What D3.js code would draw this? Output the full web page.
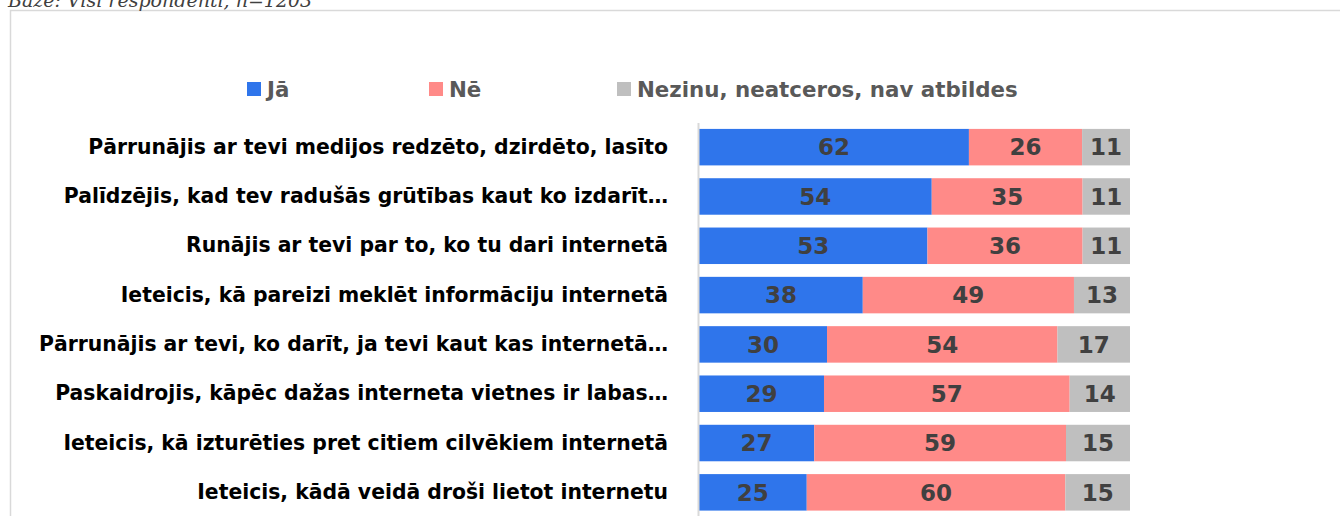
<!DOCTYPE html>
<html>
<head>
<meta charset="utf-8">
<script src="https://cdn.jsdelivr.net/npm/d3@7"></script>
<style>
  html, body { margin: 0; padding: 0; background: #fff; overflow: hidden; }
  svg { display: block; }
</style>
</head>
<body>
<svg id="chart" width="1340" height="516"></svg>
<script>
// Survey items (top to bottom)
const categories = [
  "Pārrunājis ar tevi medijos redzēto, dzirdēto, lasīto",
  "Palīdzējis, kad tev radušās grūtības kaut ko izdarīt…",
  "Runājis ar tevi par to, ko tu dari internetā",
  "Ieteicis, kā pareizi meklēt informāciju internetā",
  "Pārrunājis ar tevi, ko darīt, ja tevi kaut kas internetā…",
  "Paskaidrojis, kāpēc dažas interneta vietnes ir labas…",
  "Ieteicis, kā izturēties pret citiem cilvēkiem internetā",
  "Ieteicis, kādā veidā droši lietot internetu"
];
// Percentages per answer
const yes     = [62, 54, 53, 38, 30, 29, 27, 25];
const no      = [26, 35, 36, 49, 54, 57, 59, 60];
const unknown = [11, 11, 11, 13, 17, 14, 15, 15];

const seriesNames  = ["Jā", "Nē", "Nezinu, neatceros, nav atbildes"];
const seriesColors = ["#2F75EB", "#FF8A88", "#BFBFBF"];
const baseNote = "Bāze: Visi respondenti, n=1203";

const svg = d3.select("#chart");

// outer frame
svg.append("rect")
  .attr("x", 10.5).attr("y", 10.5)
  .attr("width", 1500).attr("height", 700)
  .attr("fill", "none").attr("stroke", "#d9d9d9").attr("stroke-width", 1.5);

// base note (partly above the top edge)
svg.append("text")
  .attr("x", 8).attr("y", 7)
  .attr("font-family", "DejaVu Serif")
  .attr("font-style", "italic")
  .attr("font-size", 19)
  .attr("fill", "#404040")
  .text(baseNote);

// stacked rows built from the series arrays
const rows = categories.map((c, i) => ({ cat: c, s0: yes[i], s1: no[i], s2: unknown[i] }));
const stack = d3.stack().keys(["s0", "s1", "s2"]).offset(d3.stackOffsetExpand);
const stacked = stack(rows);

const x = d3.scaleLinear().domain([0, 1]).range([699, 1130]);
const y = d3.scaleBand().domain(categories).range([122.5, 517])
  .paddingInner(0.26).paddingOuter(0.13);

const values = [yes, no, unknown];

const groups = svg.append("g").selectAll("g")
  .data(stacked).join("g")
  .attr("fill", (d, i) => seriesColors[i]);

groups.selectAll("rect")
  .data(d => d).join("rect")
  .attr("x", d => x(d[0]))
  .attr("y", d => y(d.data.cat))
  .attr("width", d => x(d[1]) - x(d[0]))
  .attr("height", y.bandwidth());

// value labels
stacked.forEach((layer, si) => {
  svg.append("g").selectAll("text")
    .data(layer).join("text")
    .attr("x", d => (x(d[0]) + x(d[1])) / 2)
    .attr("y", d => y(d.data.cat) + y.bandwidth() / 2)
    .attr("dy", "0.36em")
    .attr("text-anchor", "middle")
    .attr("font-family", "DejaVu Sans")
    .attr("font-weight", "bold")
    .attr("font-size", 23)
    .attr("fill", "#404040")
    .text((d, i) => values[si][i]);
});

// category axis
const yAxis = d3.axisLeft(y).tickSize(0).tickPadding(30);
const ag = svg.append("g").attr("transform", "translate(698,0)").call(yAxis);
ag.select(".domain").attr("stroke", "#d9d9d9").attr("stroke-width", 2);
const catText = ag.selectAll("text")
  .attr("font-family", "DejaVu Sans")
  .attr("font-weight", "bold")
  .attr("font-size", 20)
  .attr("fill", "#000");
// size labels so the first row spans 580px
const w0 = catText.nodes()[0].getComputedTextLength();
catText.attr("font-size", 20 * 580 / w0);

// legend
const legendX = [247, 429, 617];
const lg = svg.append("g").selectAll("g")
  .data(seriesNames).join("g")
  .attr("transform", (d, i) => `translate(${legendX[i]},82)`);
lg.append("rect").attr("width", 14).attr("height", 14)
  .attr("fill", (d, i) => seriesColors[i]);
const lgText = lg.append("text")
  .attr("x", 20).attr("y", 7).attr("dy", "0.36em")
  .attr("font-family", "DejaVu Sans")
  .attr("font-weight", "bold")
  .attr("font-size", 22)
  .attr("fill", "#595959")
  .text(d => d);
// size legend so the last entry spans 381px
const wl = lgText.nodes()[2].getComputedTextLength();
lgText.attr("font-size", 22 * 381 / wl);
</script>
</body>
</html>
